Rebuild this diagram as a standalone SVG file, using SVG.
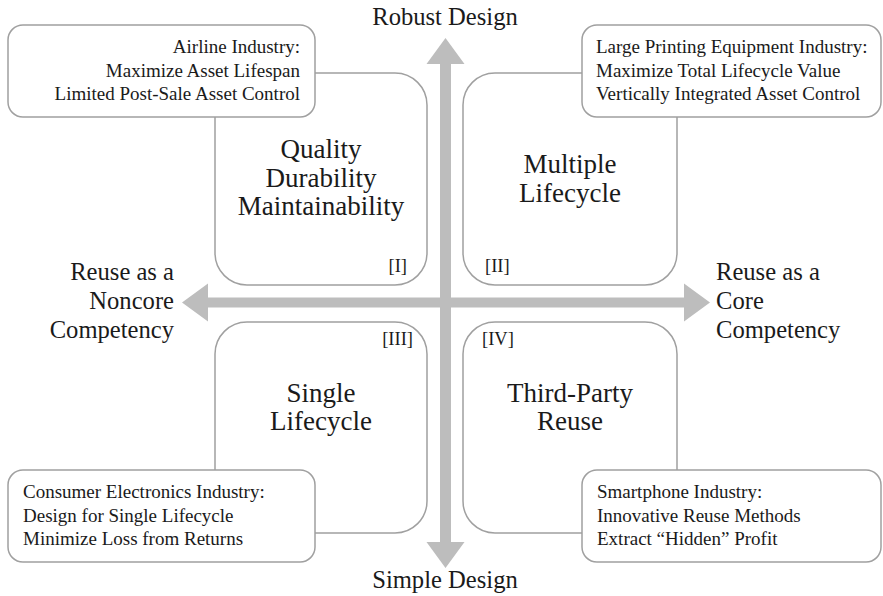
<svg xmlns="http://www.w3.org/2000/svg" width="883" height="596" viewBox="0 0 883 596">
<style>
.ax{fill:#bdbdbd}
.q{fill:#fff;stroke:#a0a0a0;stroke-width:1.5}
.c{fill:#fff;stroke:#a0a0a0;stroke-width:1.5}
text{font-family:'Liberation Serif','Times New Roman','DejaVu Serif',serif;fill:#1a1a1a}
.sm{font-size:19px}
.ql{font-size:27px;text-anchor:middle}
.al{font-size:24.6px}
.br{font-size:18.5px}
</style>
<rect width="883" height="596" fill="#fff"/>
<g id="connectors">
<polygon class="ax" points="445.5,38 464.5,64 451,64 451,542 464.5,542 445.5,568 426.5,542 440,542 440,64 426.5,64"/>
<polygon class="ax" points="182,302.5 208,283.5 208,297.5 684,297.5 684,283.5 710,302.5 684,321.5 684,307.5 208,307.5 208,321.5"/>
</g>
<g id="q1"><rect class="q" x="215" y="73" width="212" height="212" rx="32"/>
<text class="ql" x="321" y="158">Quality</text><text class="ql" x="321" y="187">Durability</text><text class="ql" x="321" y="215">Maintainability</text>
<text class="br" x="407" y="272" text-anchor="end">[I]</text></g>
<g id="q2"><rect class="q" x="463" y="73" width="214" height="212" rx="32"/>
<text class="ql" x="570" y="173">Multiple</text><text class="ql" x="570" y="202">Lifecycle</text>
<text class="br" x="485" y="272">[II]</text></g>
<g id="q3"><rect class="q" x="215" y="322" width="212" height="211" rx="32"/>
<text class="ql" x="321" y="402">Single</text><text class="ql" x="321" y="430">Lifecycle</text>
<text class="br" x="413" y="345" text-anchor="end">[III]</text></g>
<g id="q4"><rect class="q" x="463" y="322" width="214" height="211" rx="32"/>
<text class="ql" x="570" y="402">Third-Party</text><text class="ql" x="570" y="430">Reuse</text>
<text class="br" x="482" y="345">[IV]</text></g>
<g id="c1"><rect class="c" x="8" y="25" width="307" height="92" rx="15"/>
<text class="sm" text-anchor="end"><tspan x="300" y="53">Airline Industry:</tspan><tspan x="300" y="77">Maximize Asset Lifespan</tspan><tspan x="300" y="100">Limited Post-Sale Asset Control</tspan></text></g>
<g id="c2"><rect class="c" x="582" y="25" width="299" height="92" rx="15"/>
<text class="sm"><tspan x="596" y="53">Large Printing Equipment Industry:</tspan><tspan x="596" y="77">Maximize Total Lifecycle Value</tspan><tspan x="596" y="100">Vertically Integrated Asset Control</tspan></text></g>
<g id="c3"><rect class="c" x="8" y="470" width="307" height="92" rx="15"/>
<text class="sm"><tspan x="23" y="498">Consumer Electronics Industry:</tspan><tspan x="23" y="522">Design for Single Lifecycle</tspan><tspan x="23" y="545">Minimize Loss from Returns</tspan></text></g>
<g id="c4"><rect class="c" x="582" y="470" width="299" height="92" rx="15"/>
<text class="sm"><tspan x="597" y="498">Smartphone Industry:</tspan><tspan x="597" y="522">Innovative Reuse Methods</tspan><tspan x="597" y="545">Extract “Hidden” Profit</tspan></text></g>
<g id="axis-labels">
<text class="al" x="445" y="25" text-anchor="middle">Robust Design</text>
<text class="al" x="445" y="588" text-anchor="middle">Simple Design</text>
<text class="al" text-anchor="end"><tspan x="174" y="280">Reuse as a</tspan><tspan x="174" y="309">Noncore</tspan><tspan x="174" y="338">Competency</tspan></text>
<text class="al"><tspan x="716" y="280">Reuse as a</tspan><tspan x="716" y="309">Core</tspan><tspan x="716" y="338">Competency</tspan></text>
</g>
</svg>
